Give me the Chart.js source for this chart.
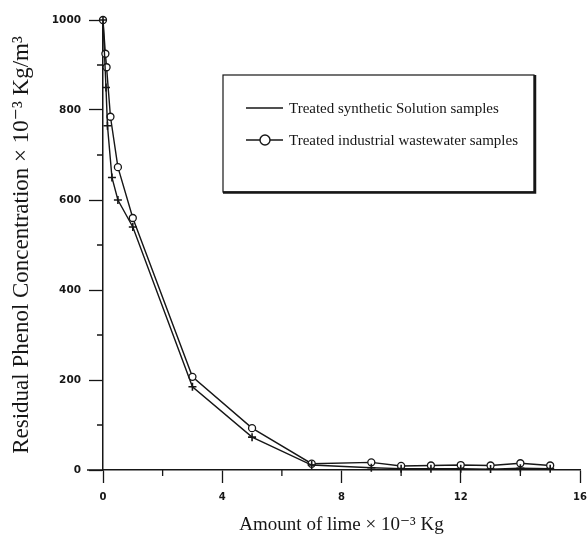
<!DOCTYPE html>
<html>
<head>
<meta charset="utf-8">
<script src="https://cdn.jsdelivr.net/npm/chart.js@4.4.1/dist/chart.umd.min.js"></script>
<style>
    html, body { margin: 0; padding: 0; background: #fff; }
    #wrap { width: 588px; height: 539px; }
</style>
</head>
<body>
<div id="wrap"><canvas id="limeChart"></canvas></div>
<script>
// values
const synX = [0, 0.1, 0.15, 0.3, 0.5, 1, 3, 5, 7, 9, 10, 11, 12, 13, 14, 15];
const synY = [1000, 850, 765, 650, 600, 540, 185, 73, 11, 5, 3, 3, 3, 2, 4, 3];
const indX = [0, 0.08, 0.12, 0.25, 0.5, 1, 3, 5, 7, 9, 10, 11, 12, 13, 14, 15];
const indY = [1000, 925, 895, 785, 673, 560, 207, 93, 14, 17, 9, 10, 11, 10, 15, 10];
const yMinor = [100, 300, 500, 700, 900];
const xMinor = [2, 6, 10, 14];

const INK = '#161616';
const serif = "'Liberation Serif', 'DejaVu Serif', serif";
const sans = "'DejaVu Sans', sans-serif";

function toPoints(xs, ys) {
    return xs.map((x, i) => ({ x: x, y: ys[i] }));
}

// minor ticks + the small stub of x axis left of the origin
const minorTicks = {
    id: 'minorTicks',
    afterDraw(chart) {
        const ctx = chart.ctx;
        const xs = chart.scales.x, ys = chart.scales.y;
        const left = chart.chartArea.left, bottom = chart.chartArea.bottom;
        ctx.save();
        ctx.strokeStyle = INK;
        ctx.lineWidth = 1.3;
        ctx.beginPath();
        yMinor.forEach(v => {
            const py = ys.getPixelForValue(v);
            ctx.moveTo(left - 6, py);
            ctx.lineTo(left, py);
        });
        xMinor.forEach(v => {
            const px = xs.getPixelForValue(v);
            ctx.moveTo(px, bottom);
            ctx.lineTo(px, bottom + 6);
        });
        ctx.moveTo(left - 16, bottom);
        ctx.lineTo(left, bottom);
        ctx.stroke();
        ctx.restore();
    }
};

// boxed legend inside the plot
const boxLegend = {
    id: 'boxLegend',
    afterDraw(chart) {
        const ctx = chart.ctx;
        const box = { l: 223, t: 75, r: 534, b: 192 };
        ctx.save();
        ctx.strokeStyle = INK;
        ctx.lineWidth = 1.2;
        ctx.strokeRect(box.l, box.t, box.r - box.l, box.b - box.t);
        ctx.lineWidth = 2.5;
        ctx.beginPath();
        ctx.moveTo(box.l, box.b + 0.5);
        ctx.lineTo(box.r + 1, box.b + 0.5);
        ctx.lineTo(box.r + 1, box.t);
        ctx.stroke();

        const rows = [108, 140];
        ctx.font = '15px ' + serif;
        ctx.fillStyle = INK;
        ctx.textBaseline = 'middle';
        chart.data.datasets.forEach((ds, i) => {
            const y = rows[i];
            ctx.lineWidth = 1.4;
            ctx.beginPath();
            ctx.moveTo(246, y);
            ctx.lineTo(283, y);
            ctx.stroke();
            if (ds.legendMarker) {
                ctx.beginPath();
                ctx.arc(265, y, 5, 0, Math.PI * 2);
                ctx.fillStyle = '#fff';
                ctx.fill();
                ctx.stroke();
                ctx.fillStyle = INK;
            }
            ctx.fillText(ds.label, 289, y + 1);
        });
        ctx.restore();
    }
};

document.addEventListener('DOMContentLoaded', () => {
    const ctx = document.getElementById('limeChart').getContext('2d');
    new Chart(ctx, {
        type: 'line',
        data: {
            datasets: [{
                label: 'Treated synthetic Solution samples',
                data: toPoints(synX, synY),
                borderColor: INK,
                borderWidth: 1.4,
                pointStyle: 'cross',
                pointRadius: 4,
                pointBorderWidth: 1.6,
                pointBorderColor: INK,
                tension: 0,
                clip: false,
                legendMarker: false
            }, {
                label: 'Treated industrial wastewater samples',
                data: toPoints(indX, indY),
                borderColor: INK,
                borderWidth: 1.4,
                pointStyle: 'circle',
                pointRadius: 3.5,
                pointBorderWidth: 1.3,
                pointBackgroundColor: '#fff',
                pointBorderColor: INK,
                tension: 0,
                clip: false,
                legendMarker: true
            }]
        },
        options: {
            responsive: true,
            maintainAspectRatio: false,
            animation: false,
            layout: { padding: { left: 0, top: 20, right: 0, bottom: 0 } },
            plugins: {
                legend: { display: false },
                tooltip: { enabled: false }
            },
            scales: {
                x: {
                    type: 'linear',
                    min: 0,
                    max: 16,
                    afterFit: s => { s.height = 69; s.paddingRight = 8; },
                    border: { display: true, color: INK, width: 1.5 },
                    grid: { drawOnChartArea: false, drawTicks: true, tickLength: 13, tickColor: INK, tickWidth: 1.3 },
                    ticks: {
                        stepSize: 4,
                        padding: 8,
                        color: INK,
                        font: { family: sans, size: 10, weight: 'bold' }
                    },
                    title: {
                        display: true,
                        text: 'Amount of lime × 10⁻³ Kg',
                        color: INK,
                        font: { family: serif, size: 19 },
                        padding: { top: 0, bottom: 3 }
                    }
                },
                y: {
                    min: 0,
                    max: 1000,
                    afterFit: s => { s.width = 103; },
                    border: { display: true, color: INK, width: 1.5 },
                    grid: { drawOnChartArea: false, drawTicks: true, tickLength: 14, tickColor: INK, tickWidth: 1.3 },
                    ticks: {
                        stepSize: 200,
                        padding: 8,
                        color: INK,
                        font: { family: sans, size: 10.5, weight: 'bold' },
                        callback: v => String(v)
                    },
                    title: {
                        display: true,
                        text: 'Residual Phenol Concentration × 10⁻³ Kg/m³',
                        color: INK,
                        font: { family: serif, size: 23 },
                        padding: { top: 8, bottom: 0 }
                    }
                }
            }
        },
        plugins: [minorTicks, boxLegend]
    });
});
</script>
</body>
</html>
